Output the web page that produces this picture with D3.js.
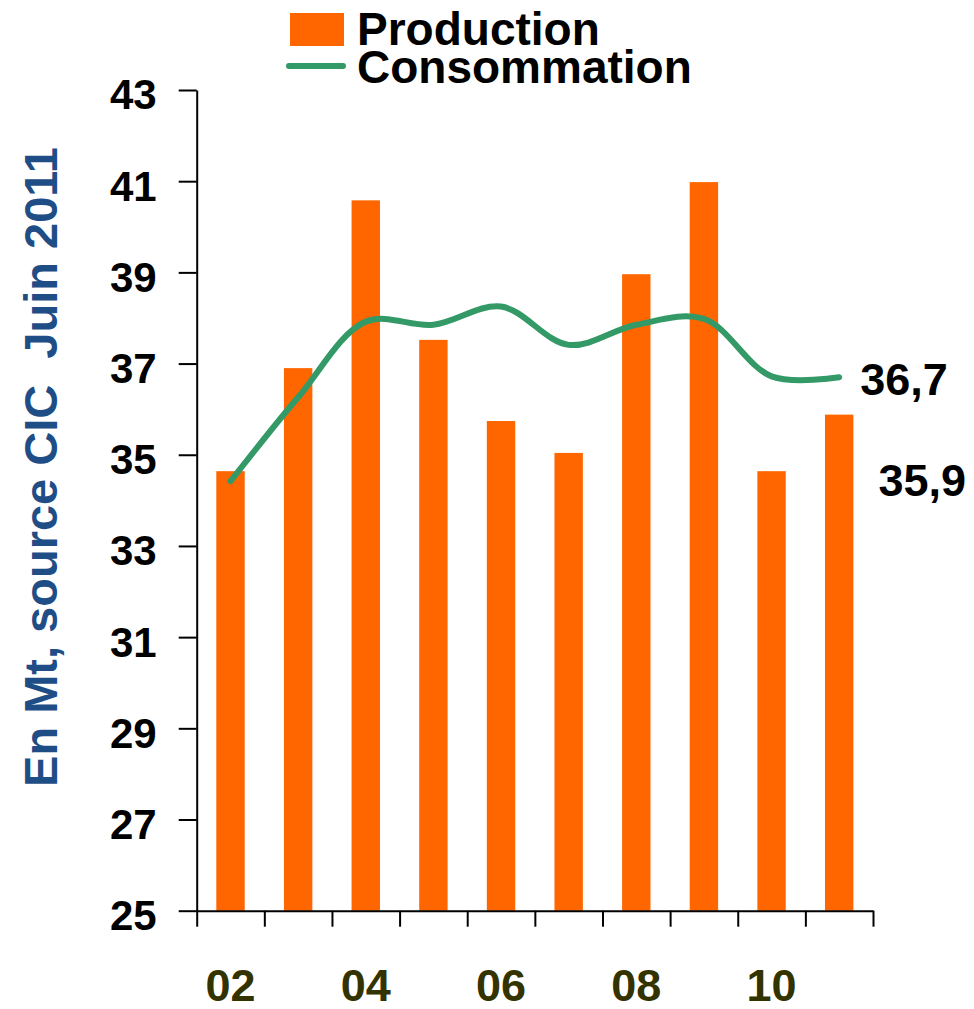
<!DOCTYPE html>
<html>
<head>
<meta charset="utf-8">
<script src="https://cdn.jsdelivr.net/npm/d3@7"></script>
<style>
  html, body { margin: 0; padding: 0; background: #ffffff; }
  svg { display: block; }
  text { font-family: "Liberation Sans", Arial, sans-serif; font-weight: bold; }
</style>
</head>
<body>
<svg id="chart" width="974" height="1009"></svg>
<script>
// ---- data ----
const years = ["02", "03", "04", "05", "06", "07", "08", "09", "10", "11"];
const production = [34.64, 36.90, 40.58, 37.52, 35.74, 35.04, 38.96, 40.98, 34.64, 35.88];
const consommation = [34.42, 36.26, 37.92, 37.85, 38.25, 37.41, 37.85, 37.98, 36.72, 36.70];
const xTickLabels = ["02", "04", "06", "08", "10"];
const yTicks = [25, 27, 29, 31, 33, 35, 37, 39, 41, 43];
const seriesNames = ["Production", "Consommation"];
const yTitle = "En Mt, source CIC  Juin 2011";

(function () {
// ---- layout ----
const svg = d3.select("#chart");
const pLeft = 196.7, pRight = 873, pTop = 90, pBottom = 910.7;
const barColor = "#FF6600", lineColor = "#339966";

const x = d3.scaleBand().domain(years).range([pLeft, pRight]).paddingInner(0.58).paddingOuter(0.29);
const xEdges = d3.scaleLinear().domain([0, years.length]).range([pLeft, pRight]);
const y = d3.scaleLinear().domain([25, 43]).range([pBottom, pTop]);

// bars
svg.append("g").selectAll("rect").data(years).join("rect")
  .attr("x", d => x(d))
  .attr("width", x.bandwidth())
  .attr("y", (d, i) => y(production[i]))
  .attr("height", (d, i) => y(25) - y(production[i]))
  .attr("fill", barColor);

// y axis
const yAxis = svg.append("g").attr("transform", `translate(${pLeft},0)`)
  .call(d3.axisLeft(y).tickValues(yTicks).tickFormat(d3.format("d")).tickSize(18).tickSizeOuter(0).tickPadding(22));
yAxis.select(".domain").attr("stroke", "#000").attr("stroke-width", 2);
yAxis.selectAll(".tick line").attr("stroke", "#000").attr("stroke-width", 2);
yAxis.selectAll(".tick text").attr("font-size", 42).attr("fill", "#000")
  .attr("dy", "0.45em").style("font-family", '"Liberation Sans", Arial, sans-serif').style("font-weight", "bold");

// x axis (ticks at band edges)
const xAxis = svg.append("g").attr("transform", `translate(0,${pBottom})`)
  .call(d3.axisBottom(xEdges).tickValues(d3.range(0, years.length + 1)).tickFormat("").tickSize(16).tickSizeOuter(0));
xAxis.select(".domain").attr("stroke", "#000").attr("stroke-width", 2);
xAxis.selectAll(".tick line").attr("stroke", "#000").attr("stroke-width", 2);

// x labels
svg.append("g").selectAll("text").data(xTickLabels).join("text")
  .attr("x", d => x(d) + x.bandwidth() / 2)
  .attr("y", 1001)
  .attr("text-anchor", "middle")
  .attr("font-size", 45)
  .attr("fill", "#333300")
  .text(d => d);

// consumption line
const line = d3.line()
  .x((d, i) => x(years[i]) + x.bandwidth() / 2)
  .y(d => y(d))
  .curve(d3.curveCatmullRom.alpha(0.5));
svg.append("path").datum(consommation)
  .attr("d", line)
  .attr("fill", "none")
  .attr("stroke", lineColor)
  .attr("stroke-width", 6)
  .attr("stroke-linecap", "round")
  .attr("stroke-linejoin", "round");

// end labels
const fmt = v => d3.format(".1f")(v).replace(".", ",");
const last = years.length - 1;
svg.append("text")
  .attr("x", x(years[last]) + x.bandwidth() / 2 + 21)
  .attr("y", y(consommation[last]) + 18)
  .attr("font-size", 45).attr("fill", "#000")
  .text(fmt(consommation[last]));
svg.append("text")
  .attr("x", x(years[last]) + x.bandwidth() + 25)
  .attr("y", y(production[last]) + 81)
  .attr("font-size", 45).attr("fill", "#000")
  .text(fmt(production[last]));

// y title
svg.append("text")
  .attr("transform", "translate(57,467) rotate(-90)")
  .attr("text-anchor", "middle")
  .attr("font-size", 47)
  .attr("fill", "#1f4e87")
  .style("white-space", "pre")
  .attr("xml:space", "preserve")
  .text(yTitle);

// legend
const lg = svg.append("g");
lg.append("rect").attr("x", 290).attr("y", 13).attr("width", 54).attr("height", 33).attr("fill", barColor);
lg.append("line").attr("x1", 289).attr("x2", 343).attr("y1", 66).attr("y2", 66)
  .attr("stroke", lineColor).attr("stroke-width", 6).attr("stroke-linecap", "round");
lg.selectAll("text").data(seriesNames).join("text")
  .attr("x", 357)
  .attr("y", (d, i) => 45 + i * 38)
  .attr("font-size", 46)
  .attr("fill", "#000")
  .text(d => d);
})();
</script>
</body>
</html>
